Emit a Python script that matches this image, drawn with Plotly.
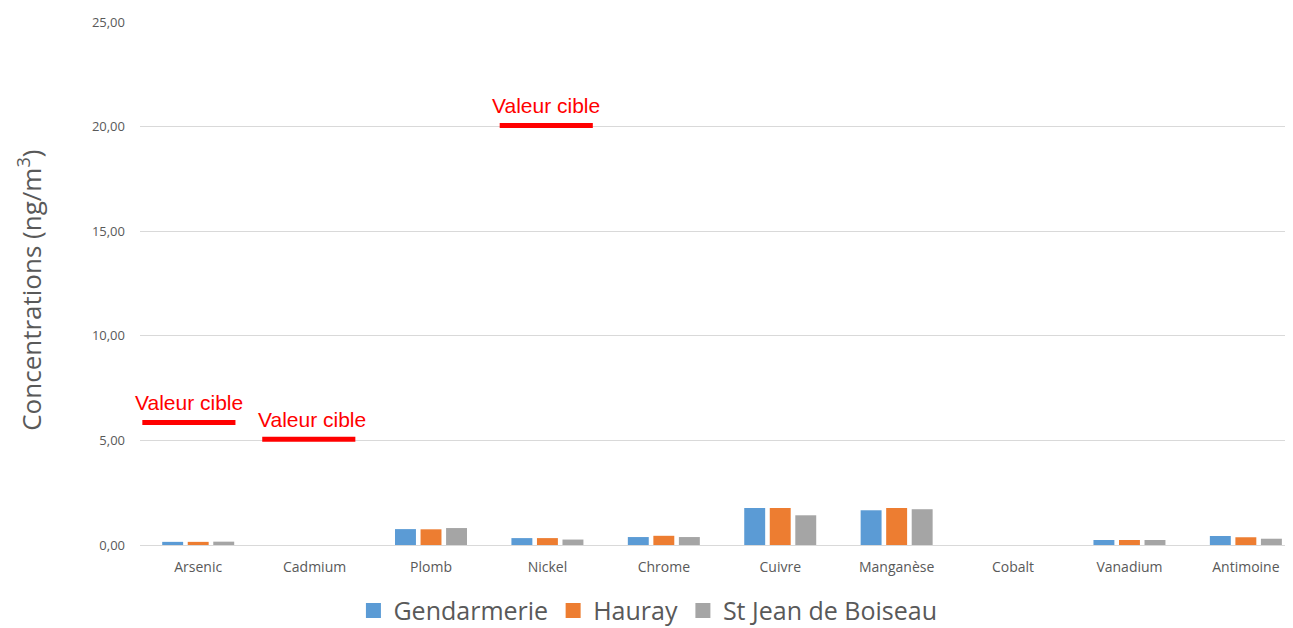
import plotly.graph_objects as go

categories = ["Arsenic", "Cadmium", "Plomb", "Nickel", "Chrome", "Cuivre",
              "Manganèse", "Cobalt", "Vanadium", "Antimoine"]
gendarmerie = [0.15, 0.0, 0.76, 0.33, 0.38, 1.77, 1.66, 0.0, 0.24, 0.43]
hauray = [0.15, 0.0, 0.75, 0.33, 0.44, 1.77, 1.77, 0.0, 0.24, 0.37]
st_jean = [0.16, 0.0, 0.81, 0.26, 0.38, 1.42, 1.71, 0.0, 0.24, 0.30]

series_names = ["Gendarmerie", "Hauray", "St Jean de Boiseau"]
series_colors = ["#5B9BD5", "#ED7D31", "#A5A5A5"]

target_categories = ["Arsenic", "Cadmium", "Nickel"]
target_values = [5.85, 5.05, 20.05]
target_label = "Valeur cible"

yticks = [0, 5, 10, 15, 20, 25]

# hand-drawn target segments: start/end offsets (category units) and label offset
seg_start = [-0.48, -0.45, -0.41]
seg_end = [0.32, 0.35, 0.39]
label_dx = [-0.08, -0.02, -0.01]

font_family = "Open Sans, Noto Sans, DejaVu Sans, sans-serif"
grey_text = "#595959"

fig = go.Figure()
for name, vals, col in zip(series_names, [gendarmerie, hauray, st_jean], series_colors):
    fig.add_trace(go.Bar(
        x=categories, y=vals, name=name, showlegend=False,
        marker=dict(color=col, line=dict(width=0)),
    ))
# legend entries with larger square symbols
for name, col in zip(series_names, series_colors):
    fig.add_trace(go.Scatter(
        x=[None], y=[None], mode="markers", name=name,
        marker=dict(symbol="square", size=15, color=col),
    ))

# Target value lines + labels
for cat, val, s0, s1, dx in zip(target_categories, target_values, seg_start, seg_end, label_dx):
    idx = categories.index(cat)
    fig.add_shape(type="line", xref="x", yref="y",
                  x0=idx + s0, x1=idx + s1, y0=val, y1=val,
                  line=dict(color="#FF0000", width=5))
    fig.add_annotation(x=idx + dx, y=val, xref="x", yref="y",
                       text=target_label, showarrow=False,
                       yshift=20, xanchor="center", yanchor="middle",
                       font=dict(family="Liberation Sans, Arial, sans-serif",
                                 size=21, color="#FF0000"))

# y axis title as annotation (placed slightly below the plot centre like the original)
fig.add_annotation(text="Concentrations (ng/m<sup>3</sup>)", textangle=-90,
                   xref="paper", yref="paper", x=-0.095, y=0.487,
                   xanchor="center", yanchor="middle", showarrow=False,
                   font=dict(family=font_family, size=26, color=grey_text))

fig.update_layout(
    width=1285, height=620,
    margin=dict(l=132, r=0, t=14, b=83, autoexpand=False),
    paper_bgcolor="white", plot_bgcolor="white",
    barmode="group", bargap=0.342, bargroupgap=0.18,
    separators=",.",
    font=dict(family=font_family, color=grey_text),
    showlegend=True,
    legend=dict(orientation="h", xref="container", yref="container",
                x=0.498, y=0.028, xanchor="center", yanchor="middle",
                font=dict(size=25, color=grey_text),
                traceorder="normal"),
    xaxis=dict(type="category", range=[-0.5, 9.405], showgrid=False,
               showline=False, ticks="", ticklabelstandoff=12,
               tickfont=dict(size=14, color=grey_text)),
    yaxis=dict(range=[0, 25], tickvals=yticks, tickformat=".2f",
               showgrid=True, gridcolor="#D9D9D9", gridwidth=1,
               zeroline=True, zerolinecolor="#D9D9D9", zerolinewidth=1,
               showline=False, ticks="", ticklabelstandoff=14,
               tickfont=dict(size=13, color=grey_text)),
)

fig.write_html("out.html")
